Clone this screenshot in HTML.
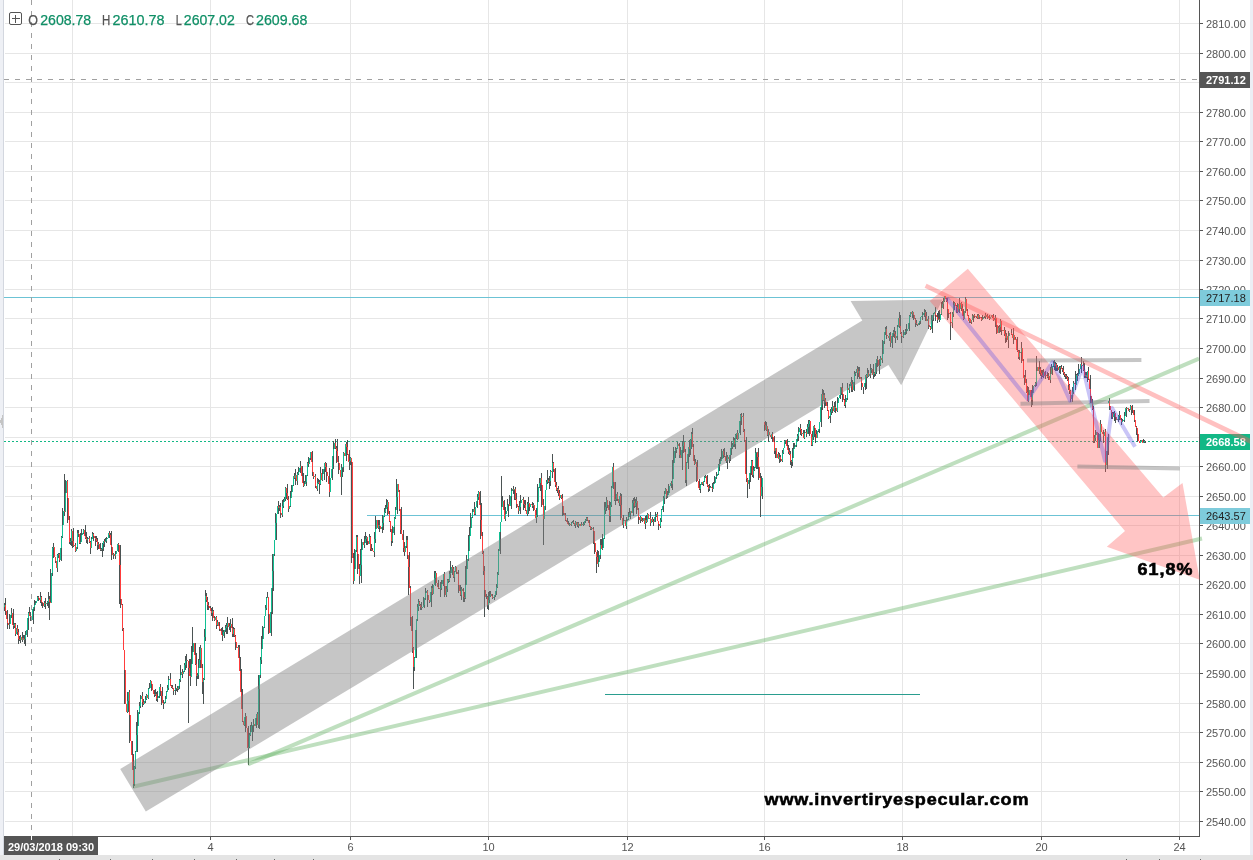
<!DOCTYPE html>
<html><head><meta charset="utf-8"><title>chart</title>
<style>
html,body{margin:0;padding:0;background:#fff;}
body{width:1253px;height:860px;overflow:hidden;position:relative;font-family:"Liberation Sans",sans-serif;}
svg{position:absolute;left:0;top:0;display:block}
svg text{font-family:"Liberation Sans",sans-serif;}
</style></head><body>
<svg width="1253" height="860" viewBox="0 0 1253 860">
<rect width="1253" height="860" fill="#fff"/>
<g stroke="#e6e6e6" stroke-width="1" shape-rendering="crispEdges">
<path d="M5 821.5H1199"/><path d="M5 791.5H1199"/><path d="M5 762.5H1199"/><path d="M5 732.5H1199"/><path d="M5 703.5H1199"/><path d="M5 673.5H1199"/><path d="M5 643.5H1199"/><path d="M5 614.5H1199"/><path d="M5 584.5H1199"/><path d="M5 555.5H1199"/><path d="M5 525.5H1199"/><path d="M5 496.5H1199"/><path d="M5 466.5H1199"/><path d="M5 437.5H1199"/><path d="M5 407.5H1199"/><path d="M5 378.5H1199"/><path d="M5 348.5H1199"/><path d="M5 318.5H1199"/><path d="M5 289.5H1199"/><path d="M5 260.5H1199"/><path d="M5 230.5H1199"/><path d="M5 200.5H1199"/><path d="M5 171.5H1199"/><path d="M5 141.5H1199"/><path d="M5 112.5H1199"/><path d="M5 82.5H1199"/><path d="M5 53.5H1199"/><path d="M5 23.5H1199"/><path d="M72.5 0V836"/><path d="M210.5 0V836"/><path d="M350.5 0V836"/><path d="M488.5 0V836"/><path d="M627.5 0V836"/><path d="M764.5 0V836"/><path d="M902.5 0V836"/><path d="M1041.5 0V836"/><path d="M1179.5 0V836"/>
</g>
<g shape-rendering="crispEdges">
<path d="M4 297.5H1199" stroke="#6cc3d5" stroke-width="1"/>
<path d="M367 515.5H1199" stroke="#6cc3d5" stroke-width="1"/>
<path d="M4 441.5H1199" stroke="#12b886" stroke-width="1" stroke-dasharray="2 2"/>
<path d="M605 694.5H920" stroke="#2a9d8f" stroke-width="1"/>
</g>
<g shape-rendering="crispEdges" fill="none" stroke-width="1">
<path stroke="#4b5353" d="M4.5 603.2V610.7M5.5 598.1V614.5M7.5 609.6V620.5M7.5 614.7V624.8M7.5 619.5V629.1M9.5 622.0V627.0M9.5 614.1V629.0M11.5 608.0V617.8M13.5 609.3V629.2M13.5 622.9V629.4M14.5 622.5V627.7M15.5 623.4V636.0M15.5 627.0V633.8M17.5 625.4V634.8M18.5 628.8V643.9M20.5 634.7V642.6M19.5 636.1V640.7M22.5 631.5V641.6M23.5 634.5V639.9M24.5 634.9V643.8M25.5 636.3V646.4M25.5 631.3V640.4M27.5 625.0V636.7M28.5 613.8V629.9M28.5 612.1V619.0M29.5 607.2V616.1M30.5 615.5V618.8M30.5 612.4V620.9M33.5 607.6V623.7M34.5 605.0V610.8M34.5 604.0V609.0M34.5 599.9V607.1M35.5 600.6V605.0M38.5 595.5V601.4M37.5 595.5V599.6M40.5 595.7V602.1M40.5 596.3V602.9M40.5 592.3V602.9M41.5 595.7V605.9M42.5 603.0V607.8M44.5 600.8V606.6M45.5 599.1V607.3M45.5 598.4V608.6M47.5 601.3V606.3M48.5 591.9V608.3M49.5 595.9V602.5M49.5 599.9V620.0M50.5 568.9V603.2M52.5 546.7V576.3M53.5 545.1V548.1M53.5 543.3V557.7M55.5 556.9V563.1M57.5 560.8V571.8M57.5 553.9V570.0M58.5 553.4V558.0M59.5 553.2V562.1M61.5 544.8V560.6M61.5 536.4V548.9M62.5 522.1V538.2M62.5 508.1V525.2M64.5 508.0V515.9M64.5 474.0V515.0M65.5 479.8V496.4M67.5 480.0V499.1M67.5 493.7V523.4M69.5 516.2V543.5M70.5 538.1V545.3M71.5 528.7V546.4M73.5 527.7V541.4M72.5 538.4V548.1M73.5 542.4V546.5M75.5 543.7V551.5M75.5 542.5V552.4M77.5 530.1V549.0M78.5 530.2V536.8M79.5 533.5V544.2M80.5 541.5V543.8M80.5 532.5V542.2M81.5 529.2V536.6M83.5 528.8V534.3M85.5 525.3V538.5M86.5 531.8V543.3M87.5 537.1V544.3M87.5 538.1V540.4M89.5 535.6V539.6M89.5 536.4V543.2M90.5 541.1V554.3M91.5 536.7V548.1M92.5 531.5V539.4M93.5 533.3V541.0M95.5 535.9V545.5M96.5 537.7V542.2M96.5 536.2V541.4M97.5 537.8V549.6M98.5 542.3V549.1M100.5 542.9V549.1M100.5 545.7V550.8M101.5 547.5V550.9M102.5 542.9V556.5M103.5 540.8V550.9M104.5 539.3V545.3M104.5 540.7V546.9M105.5 537.7V541.4M106.5 536.7V542.7M109.5 531.4V538.0M110.5 532.7V539.0M111.5 530.9V545.0M111.5 544.0V552.1M111.5 544.5V559.8M113.5 552.5V558.5M113.5 553.8V557.9M115.5 551.4V558.6M115.5 550.7V555.5M118.5 543.5V551.6M118.5 543.0V545.7M120.5 544.8V569.1M119.5 565.0V603.6M120.5 596.4V607.7M122.5 603.5V631.1M123.5 627.6V650.1M124.5 649.8V671.1M124.5 667.4V704.3M127.5 703.5V712.5M128.5 698.3V712.4M127.5 691.5V706.9M129.5 690.3V715.6M129.5 714.4V742.7M132.5 740.7V756.6M133.5 753.7V773.5M133.5 769.0V788.0M134.5 766.3V785.5M135.5 750.7V768.5M137.5 729.4V752.2M136.5 721.6V738.9M137.5 710.0V726.1M139.5 702.4V713.6M140.5 696.9V708.1M140.5 694.8V701.9M142.5 691.8V707.2M144.5 701.3V704.4M143.5 699.3V704.9M145.5 695.5V702.6M146.5 694.0V699.9M148.5 692.7V698.9M148.5 688.1V698.5M149.5 682.7V689.1M150.5 680.1V687.9M150.5 680.8V685.6M151.5 681.4V690.5M154.5 689.8V697.2M154.5 692.4V697.4M155.5 689.1V696.2M157.5 690.7V702.4M156.5 692.4V700.9M159.5 693.6V698.1M160.5 684.3V695.8M159.5 686.7V692.0M162.5 686.6V697.1M161.5 693.0V704.6M163.5 701.7V706.1M163.5 699.5V708.6M165.5 695.8V703.4M166.5 691.0V699.2M167.5 685.3V692.3M168.5 675.9V689.6M168.5 678.2V682.8M170.5 673.4V686.2M171.5 685.4V687.8M172.5 684.5V688.5M173.5 688.0V694.5M175.5 690.0V691.3M176.5 688.1V690.9M175.5 684.2V695.2M178.5 686.5V689.9M177.5 685.6V691.8M179.5 678.6V688.6M180.5 665.3V682.1M182.5 669.8V677.7M182.5 671.0V676.0M182.5 669.4V674.5M184.5 662.5V672.0M185.5 655.8V669.9M186.5 656.3V665.5M186.5 654.4V667.9M189.5 658.8V670.6M188.5 666.1V723.0M190.5 669.4V680.4M190.5 658.6V686.3M191.5 645.7V665.3M192.5 627.0V657.9M195.5 642.5V665.2M196.5 652.5V673.3M196.5 660.7V685.6M197.5 672.9V679.2M198.5 662.5V678.8M198.5 659.4V669.6M199.5 647.4V661.8M200.5 644.8V668.2M202.5 663.7V693.5M203.5 678.0V704.0M204.5 629.0V679.6M205.5 590.0V640.7M206.5 593.3V601.5M207.5 596.5V609.5M208.5 602.3V609.6M210.5 605.5V609.2M211.5 608.0V616.2M211.5 610.4V612.9M213.5 610.1V616.4M212.5 607.1V621.1M214.5 615.9V621.1M215.5 616.7V620.4M216.5 616.0V629.0M217.5 619.6V626.0M219.5 621.5V629.4M219.5 624.0V630.8M221.5 628.2V633.5M222.5 627.1V635.3M222.5 634.3V640.8M224.5 630.4V638.3M223.5 630.2V634.5M226.5 622.8V633.7M225.5 625.0V631.5M227.5 617.2V629.3M227.5 621.2V633.5M229.5 622.5V630.3M230.5 619.3V631.9M232.5 618.3V629.8M232.5 625.4V636.6M233.5 626.6V637.1M234.5 627.8V637.0M235.5 635.4V643.0M235.5 641.1V649.9M238.5 645.4V650.0M239.5 644.6V659.6M240.5 657.1V673.3M241.5 668.8V692.4M242.5 688.8V709.5M242.5 704.4V721.6M244.5 719.6V725.5M244.5 716.6V726.4M245.5 713.2V716.8M245.5 715.8V731.5M248.5 725.6V765.0M248.5 742.1V749.0M249.5 732.9V748.1M250.5 725.0V736.3M252.5 725.9V740.9M251.5 721.7V729.3M253.5 719.1V731.7M253.5 722.3V726.2M256.5 715.8V728.4M257.5 712.3V719.4M258.5 713.7V728.0M259.5 688.5V728.5M258.5 674.5V692.7M260.5 656.6V677.7M261.5 648.9V664.4M261.5 635.5V652.5M262.5 626.0V640.2M264.5 615.7V628.2M265.5 605.0V616.4M266.5 597.0V610.1M267.5 592.0V598.4M268.5 596.7V616.9M268.5 612.5V634.2M271.5 610.3V635.9M272.5 585.2V614.1M273.5 564.9V591.2M272.5 553.7V572.5M274.5 539.6V555.8M276.5 519.3V540.4M275.5 512.5V524.1M278.5 501.2V514.2M279.5 505.4V510.8M278.5 504.9V508.8M280.5 502.8V517.6M282.5 512.8V516.8M282.5 500.0V517.0M283.5 499.3V507.5M284.5 496.5V502.4M285.5 486.9V501.2M287.5 484.1V500.2M286.5 489.9V499.1M288.5 496.2V509.9M288.5 504.8V512.1M290.5 497.4V506.8M290.5 490.6V499.3M291.5 484.5V492.0M293.5 475.8V485.9M295.5 469.2V481.7M294.5 473.2V478.8M295.5 473.3V485.1M297.5 471.8V484.7M298.5 471.3V474.6M298.5 466.7V474.2M300.5 461.2V472.5M302.5 466.0V479.5M303.5 472.6V485.4M304.5 481.3V486.0M303.5 481.1V487.0M306.5 480.3V485.5M305.5 475.3V482.9M307.5 461.8V476.3M308.5 461.8V466.6M308.5 456.9V463.8M310.5 451.8V459.5M312.5 450.6V463.8M312.5 458.6V475.7M313.5 471.6V479.4M313.5 471.9V477.6M315.5 474.4V488.1M317.5 483.9V491.0M317.5 478.3V490.4M318.5 478.8V483.5M319.5 480.0V493.5M320.5 471.2V484.6M320.5 467.4V480.8M322.5 469.2V480.6M324.5 467.4V479.5M325.5 461.5V471.5M326.5 462.6V466.9M326.5 462.7V474.6M326.5 471.6V481.9M329.5 468.1V487.9M329.5 480.5V496.8M329.5 473.4V495.3M332.5 466.6V479.8M333.5 451.2V468.7M333.5 442.0V457.1M333.5 441.4V456.0M335.5 439.0V449.0M337.5 439.2V452.5M336.5 445.8V463.0M338.5 456.3V465.0M338.5 457.8V473.6M341.5 464.8V495.0M342.5 467.7V477.1M341.5 463.9V470.4M343.5 452.0V472.4M343.5 452.6V458.2M346.5 442.3V460.8M347.5 439.6V447.3M347.5 443.5V454.6M349.5 450.0V462.6M349.5 458.0V469.5M350.5 457.6V461.9M350.5 456.8V465.3M351.5 460.1V562.5M353.5 552.9V583.5M353.5 566.3V583.6M354.5 548.8V571.0M356.5 534.5V552.2M357.5 535.3V558.2M357.5 549.9V574.4M359.5 564.4V583.5M361.5 558.9V582.6M360.5 549.2V566.8M361.5 539.3V553.3M364.5 536.3V545.3M364.5 540.9V548.4M366.5 537.0V545.2M365.5 532.3V540.7M366.5 535.8V543.2M367.5 540.7V544.5M369.5 534.1V543.8M370.5 536.3V550.9M371.5 544.4V551.0M372.5 547.7V551.1M374.5 549.7V557.2M374.5 531.6V553.9M375.5 525.7V542.7M375.5 516.2V533.7M378.5 520.1V528.3M378.5 524.5V527.6M378.5 523.3V529.0M379.5 520.1V531.9M382.5 526.1V533.0M383.5 522.2V529.9M382.5 515.0V529.5M384.5 508.5V516.8M384.5 507.6V513.7M385.5 504.7V512.8M386.5 499.0V507.5M387.5 499.6V514.9M389.5 511.2V521.5M390.5 520.8V532.3M392.5 525.9V543.1M391.5 532.6V545.9M394.5 526.1V534.5M394.5 517.0V526.7M395.5 507.4V519.2M397.5 495.8V514.4M396.5 479.0V504.0M397.5 483.6V497.6M399.5 489.9V511.2M401.5 507.4V532.6M400.5 528.0V534.2M403.5 529.8V542.1M403.5 538.8V551.8M404.5 543.3V552.4M404.5 542.2V556.3M406.5 535.9V547.6M407.5 536.3V558.8M409.5 552.1V569.6M408.5 562.2V595.2M410.5 586.4V625.7M412.5 616.1V636.4M412.5 630.1V652.9M413.5 647.2V689.0M414.5 657.0V670.5M416.5 629.5V658.1M416.5 618.9V631.5M417.5 604.4V621.2M418.5 599.3V610.8M419.5 601.3V606.3M421.5 602.4V607.8M420.5 604.3V610.2M421.5 603.5V609.9M424.5 603.6V607.7M423.5 596.7V607.2M425.5 587.8V599.6M425.5 589.6V593.8M427.5 589.7V594.9M427.5 592.1V607.2M429.5 599.8V603.2M431.5 589.6V606.6M431.5 585.5V597.5M432.5 585.9V594.3M432.5 583.6V594.6M435.5 576.9V585.9M434.5 571.4V578.5M435.5 571.3V584.2M438.5 579.7V587.7M438.5 584.4V589.3M440.5 582.0V592.7M440.5 585.7V596.6M441.5 580.3V590.1M443.5 578.7V585.9M444.5 571.6V583.8M444.5 573.7V585.8M444.5 584.2V596.5M446.5 585.5V597.4M447.5 579.3V592.3M448.5 579.0V582.6M449.5 570.7V581.7M450.5 572.4V578.4M450.5 561.4V574.9M452.5 565.1V575.2M453.5 567.1V577.6M454.5 570.6V581.5M455.5 566.2V571.7M456.5 566.5V574.4M458.5 571.0V577.4M458.5 569.8V586.4M458.5 584.5V593.0M460.5 584.6V596.0M461.5 587.4V599.8M463.5 587.5V596.2M463.5 587.8V602.3M464.5 592.4V601.8M465.5 583.8V599.4M465.5 565.7V589.6M466.5 554.5V573.9M468.5 547.9V560.8M468.5 535.2V556.5M469.5 526.5V536.6M470.5 513.1V528.5M472.5 510.8V517.8M472.5 509.1V517.2M475.5 508.3V514.5M474.5 502.3V515.0M477.5 499.7V507.6M477.5 494.0V500.9M478.5 490.9V499.9M480.5 490.8V506.2M481.5 503.3V522.8M480.5 518.5V539.3M482.5 531.7V553.8M483.5 551.0V574.9M484.5 566.1V617.0M484.5 590.0V600.4M486.5 593.9V598.7M488.5 591.7V610.4M487.5 596.4V609.1M489.5 593.6V603.1M489.5 590.5V597.5M490.5 591.2V596.8M492.5 594.1V598.8M492.5 595.3V598.3M494.5 594.9V600.0M495.5 590.9V596.5M496.5 584.2V594.6M497.5 571.6V588.2M498.5 549.0V575.0M500.5 530.6V554.3M500.5 521.7V533.5M501.5 476.0V522.1M502.5 495.6V507.4M504.5 500.0V510.8M504.5 507.7V519.1M505.5 510.0V521.2M505.5 507.1V518.0M508.5 504.5V516.7M507.5 499.1V507.7M509.5 495.2V506.0M511.5 492.9V509.0M511.5 487.9V499.9M513.5 486.4V494.3M514.5 488.9V500.1M515.5 487.9V490.5M515.5 487.4V499.8M516.5 493.3V508.1M516.5 496.7V507.7M518.5 506.1V513.5M520.5 495.1V514.1M519.5 500.6V509.3M520.5 498.9V505.7M523.5 497.1V503.5M523.5 498.2V510.1M524.5 499.8V507.5M525.5 500.1V510.7M527.5 506.2V515.8M527.5 501.7V516.4M527.5 502.5V505.6M528.5 497.2V513.6M529.5 503.8V510.9M530.5 503.7V505.5M532.5 502.1V508.1M532.5 502.6V507.3M533.5 502.5V510.7M536.5 507.5V522.6M536.5 509.8V518.7M537.5 499.6V517.2M537.5 484.4V508.9M540.5 480.1V491.0M539.5 477.7V488.4M541.5 472.6V487.2M541.5 482.6V507.1M543.5 498.7V545.0M543.5 504.3V527.5M545.5 490.1V510.1M546.5 479.6V490.4M548.5 478.1V483.1M547.5 469.9V483.5M549.5 476.3V489.4M550.5 469.9V486.2M552.5 466.8V472.9M552.5 454.0V477.6M553.5 461.7V472.3M555.5 467.6V482.8M555.5 474.4V486.8M556.5 482.0V491.0M557.5 487.6V493.3M558.5 485.5V495.7M559.5 490.2V499.9M559.5 494.6V499.7M561.5 494.7V499.4M562.5 493.6V509.9M562.5 504.4V515.9M563.5 511.3V515.4M565.5 512.8V520.7M567.5 517.7V523.2M568.5 522.0V524.7M568.5 520.9V525.0M569.5 523.0V526.2M571.5 523.6V525.2M571.5 521.9V526.2M572.5 520.6V523.3M573.5 519.7V524.3M574.5 523.2V526.2M575.5 520.6V525.6M575.5 521.5V527.6M577.5 521.9V526.9M578.5 521.5V527.8M579.5 524.1V526.4M581.5 521.5V525.6M581.5 522.2V525.6M583.5 523.4V525.9M583.5 522.3V525.2M584.5 520.6V524.7M585.5 519.0V522.7M586.5 516.9V520.7M587.5 517.1V520.5M589.5 519.8V522.8M589.5 522.1V526.5M590.5 525.6V530.2M591.5 526.5V530.3M593.5 527.1V529.8M593.5 528.2V531.6M593.5 529.0V543.7M594.5 540.6V553.8M597.5 549.5V558.7M596.5 554.7V573.0M598.5 560.9V567.3M598.5 550.9V562.3M600.5 539.3V559.4M601.5 538.6V549.4M602.5 543.2V550.3M602.5 534.1V550.1M604.5 502.4V538.9M605.5 502.0V514.3M606.5 496.6V510.5M607.5 500.1V507.6M609.5 502.6V512.1M610.5 501.8V521.8M609.5 501.3V521.8M611.5 485.9V506.8M613.5 463.4V488.8M613.5 464.3V482.5M615.5 482.0V504.5M614.5 497.9V501.2M616.5 493.6V501.3M617.5 491.9V500.6M619.5 498.9V505.7M620.5 492.7V505.1M621.5 493.6V506.6M620.5 499.2V519.6M623.5 514.5V527.7M623.5 518.3V525.7M623.5 517.4V522.1M626.5 517.6V529.2M626.5 519.4V528.3M626.5 516.9V526.3M628.5 512.1V520.4M630.5 512.1V519.3M629.5 507.8V515.2M630.5 510.9V514.1M633.5 497.6V515.8M632.5 499.9V505.6M634.5 497.4V507.6M635.5 498.5V506.8M635.5 500.8V506.7M636.5 497.0V514.3M638.5 507.6V518.8M638.5 515.0V524.1M640.5 516.1V522.9M641.5 517.2V520.9M642.5 518.0V521.8M644.5 518.2V523.2M645.5 517.1V528.9M645.5 516.2V527.5M646.5 514.8V523.3M647.5 513.3V521.6M647.5 513.7V519.2M650.5 515.9V522.4M650.5 511.5V524.4M650.5 516.6V526.1M652.5 516.6V521.5M653.5 518.9V526.0M655.5 515.5V522.1M656.5 515.3V517.3M655.5 511.6V517.3M657.5 512.1V520.8M658.5 520.8V528.7M658.5 523.6V530.4M660.5 517.8V528.0M661.5 509.3V521.7M663.5 502.7V512.0M663.5 495.7V509.8M664.5 490.5V503.9M665.5 487.6V493.8M666.5 488.9V499.1M667.5 491.2V497.8M668.5 491.0V495.1M668.5 484.3V494.1M671.5 481.4V487.9M672.5 481.5V490.1M672.5 476.3V488.1M672.5 460.4V480.8M673.5 446.9V464.3M675.5 447.3V457.5M676.5 447.7V452.6M677.5 443.9V449.1M677.5 442.0V446.4M679.5 443.0V458.0M680.5 447.1V458.0M682.5 448.2V469.8M682.5 441.0V459.8M683.5 435.0V447.6M683.5 441.3V453.2M685.5 449.4V483.2M686.5 461.7V485.9M688.5 453.4V468.8M689.5 440.2V456.7M689.5 443.7V450.2M690.5 439.4V454.8M692.5 428.0V444.6M691.5 431.8V448.8M693.5 443.9V461.3M694.5 454.8V464.5M695.5 459.1V464.3M697.5 459.7V468.5M696.5 464.7V481.6M699.5 479.3V489.8M699.5 486.9V490.4M700.5 484.4V492.6M702.5 482.1V485.1M703.5 480.9V484.7M703.5 480.5V486.0M704.5 476.1V481.5M705.5 474.9V477.9M707.5 475.4V484.0M707.5 483.9V486.9M709.5 484.1V491.4M708.5 485.0V491.7M710.5 485.8V488.2M712.5 485.9V488.4M712.5 487.0V489.8M712.5 483.0V491.6M713.5 482.0V484.6M714.5 475.7V482.6M716.5 474.6V478.3M716.5 472.0V478.6M718.5 463.7V475.4M719.5 459.3V470.6M719.5 458.7V464.8M720.5 457.4V461.4M721.5 448.5V459.4M723.5 448.5V458.0M724.5 447.7V457.4M726.5 454.1V462.8M727.5 454.5V469.4M726.5 452.1V460.4M729.5 455.3V463.1M730.5 453.9V461.1M731.5 447.7V454.9M732.5 443.2V448.6M731.5 441.3V447.0M733.5 437.3V447.4M734.5 437.8V447.4M735.5 434.2V449.4M736.5 432.6V439.0M737.5 429.7V439.1M737.5 431.2V440.0M740.5 419.9V435.3M740.5 414.1V421.1M741.5 413.4V419.8M741.5 415.4V424.5M743.5 412.7V432.3M744.5 429.1V442.0M746.5 437.0V477.2M746.5 468.9V482.4M747.5 477.6V498.0M749.5 477.2V488.5M750.5 471.2V482.3M751.5 464.7V474.6M751.5 459.9V466.3M752.5 460.0V477.0M753.5 465.9V478.0M754.5 466.6V471.0M756.5 452.0V468.9M755.5 448.2V461.1M758.5 447.6V460.3M757.5 453.1V469.4M758.5 462.8V480.1M760.5 472.8V517.0M762.5 480.9V498.6M761.5 475.9V493.6M765.5 421.2V426.4M764.5 423.4V430.8M766.5 421.8V431.4M767.5 426.1V435.6M768.5 428.7V441.9M769.5 431.5V435.3M771.5 433.9V439.4M772.5 433.5V439.6M772.5 431.9V442.1M774.5 435.5V443.2M774.5 439.7V454.2M774.5 444.0V452.4M775.5 447.7V458.3M778.5 451.7V459.0M779.5 452.6V463.4M779.5 454.2V459.7M779.5 453.0V460.5M780.5 454.5V461.7M782.5 449.6V462.1M783.5 448.0V453.9M784.5 439.8V448.4M785.5 439.7V444.2M787.5 439.2V448.7M788.5 445.0V450.2M788.5 449.4V453.9M789.5 447.6V455.1M790.5 451.4V464.6M791.5 460.0V468.0M792.5 456.0V465.7M792.5 447.7V462.2M793.5 442.7V453.1M794.5 442.8V447.3M796.5 438.7V447.4M797.5 433.9V440.7M798.5 431.5V440.6M798.5 426.9V433.2M800.5 424.3V435.2M801.5 428.8V435.7M803.5 430.4V438.1M804.5 430.9V438.6M803.5 432.3V437.9M804.5 430.0V437.6M806.5 429.4V437.1M808.5 423.5V434.4M807.5 423.6V428.7M808.5 420.2V427.8M809.5 420.2V435.5M811.5 433.5V446.0M812.5 430.9V445.5M813.5 425.5V440.0M814.5 425.0V430.0M814.5 426.3V436.7M815.5 432.4V443.4M816.5 429.6V437.9M818.5 429.0V432.2M819.5 422.3V432.6M821.5 404.6V426.7M822.5 393.3V410.1M822.5 389.4V400.9M823.5 390.4V401.4M824.5 392.8V406.2M824.5 399.1V408.1M825.5 397.5V406.4M827.5 402.4V411.4M828.5 409.9V419.1M830.5 413.9V422.7M830.5 408.6V420.4M831.5 406.8V414.6M832.5 401.0V411.5M832.5 402.1V412.9M834.5 401.7V411.6M835.5 401.1V407.7M835.5 404.9V413.2M837.5 399.8V411.8M837.5 396.5V405.4M840.5 390.6V398.9M841.5 387.2V395.0M842.5 383.1V390.4M842.5 385.6V396.0M842.5 393.8V402.1M844.5 399.3V405.9M845.5 396.7V407.6M845.5 395.1V405.1M847.5 383.4V400.1M849.5 386.3V391.0M849.5 384.0V393.0M851.5 377.3V392.0M852.5 381.8V386.8M852.5 380.0V391.9M854.5 375.0V390.8M854.5 371.0V385.8M855.5 371.6V376.2M857.5 366.3V375.7M858.5 367.0V376.7M857.5 366.0V378.7M859.5 366.8V379.0M861.5 377.0V385.0M861.5 378.6V387.3M861.5 380.5V390.4M863.5 386.5V394.2M865.5 381.7V389.9M866.5 374.1V388.5M866.5 373.9V380.7M867.5 367.9V377.5M867.5 371.2V376.7M868.5 370.0V376.7M870.5 363.8V377.8M871.5 368.2V372.7M873.5 363.9V379.0M874.5 371.6V376.8M875.5 369.4V375.5M876.5 359.1V374.4M877.5 355.7V367.4M877.5 356.3V364.0M879.5 359.1V367.5M879.5 364.1V374.0M880.5 355.5V366.4M882.5 353.9V362.7M882.5 351.3V363.4M882.5 339.8V354.4M884.5 331.9V344.1M885.5 326.9V335.2M886.5 325.5V335.9M886.5 333.3V339.1M889.5 334.0V340.8M889.5 332.6V338.3M890.5 332.2V346.6M892.5 335.4V348.0M893.5 331.9V336.5M893.5 330.0V336.4M894.5 326.8V337.5M895.5 331.4V342.9M895.5 332.4V338.4M897.5 325.1V339.7M899.5 312.0V328.2M900.5 315.4V329.1M900.5 324.6V333.7M901.5 332.3V336.2M901.5 334.9V342.6M903.5 333.8V338.0M903.5 329.6V336.0M905.5 329.5V334.7M905.5 328.5V334.8M906.5 324.1V334.0M909.5 321.8V330.8M909.5 315.0V324.0M910.5 311.7V316.5M912.5 311.2V314.0M912.5 312.2V317.1M912.5 311.2V318.3M913.5 312.3V320.2M915.5 318.2V326.5M916.5 320.0V324.8M917.5 323.8V326.3M919.5 322.2V325.3M920.5 318.8V323.8M920.5 316.5V320.7M922.5 313.7V318.8M922.5 312.3V319.7M924.5 308.5V316.9M925.5 310.1V316.7M926.5 312.1V316.1M925.5 311.9V321.2M928.5 319.0V321.9M928.5 316.4V324.8M928.5 324.5V329.0M930.5 325.6V329.9M932.5 318.2V333.1M931.5 314.9V323.2M933.5 312.5V320.8M934.5 311.5V314.4M935.5 306.7V318.9M935.5 312.2V320.7M938.5 311.1V320.3M937.5 312.6V322.8M939.5 317.5V322.1M939.5 310.4V320.8M941.5 301.9V314.8M943.5 302.4V309.4M942.5 300.6V306.4M943.5 297.6V300.7M944.5 297.6V301.6M946.5 297.6V302.0M947.5 297.6V310.2M947.5 305.1V319.6M948.5 311.8V317.5M950.5 311.8V323.1M950.5 320.4V340.0M952.5 312.2V327.7M953.5 304.5V317.4M953.5 301.1V308.7M954.5 302.1V310.4M957.5 303.2V312.9M956.5 305.3V313.2M959.5 303.6V313.1M959.5 298.4V310.4M961.5 302.5V310.7M961.5 302.2V310.8M962.5 303.5V315.6M963.5 312.4V320.2M963.5 308.7V320.1M965.5 297.8V312.8M965.5 296.8V311.8M967.5 309.1V316.2M968.5 315.4V321.1M969.5 318.0V322.5M970.5 319.2V323.3M971.5 319.8V323.6M973.5 314.9V321.5M972.5 314.3V316.4M974.5 314.4V318.4M976.5 315.7V318.3M977.5 313.7V318.6M977.5 315.3V319.2M978.5 314.6V318.5M978.5 314.2V317.5M979.5 316.4V318.8M981.5 316.6V321.4M981.5 316.9V320.1M982.5 315.1V319.4M984.5 316.1V317.8M985.5 313.2V318.8M985.5 314.3V317.9M987.5 314.2V319.1M989.5 314.6V320.2M990.5 317.0V319.4M989.5 316.0V319.6M992.5 314.6V317.9M993.5 314.3V317.7M993.5 315.9V320.5M994.5 318.1V320.4M996.5 317.8V319.5M995.5 315.4V326.8M996.5 323.0V333.8M999.5 325.2V333.0M998.5 325.8V329.7M1000.5 320.0V331.2M1000.5 319.3V332.3M1001.5 326.6V334.9M1004.5 326.7V335.1M1004.5 329.2V335.6M1005.5 330.3V342.8M1006.5 333.4V341.8M1006.5 335.4V340.6M1008.5 334.3V347.5M1008.5 331.1V336.3M1011.5 332.3V333.8M1011.5 329.3V335.2M1013.5 332.8V339.2M1013.5 327.6V337.6M1013.5 332.8V343.5M1015.5 336.7V340.4M1017.5 337.0V351.7M1018.5 349.8V351.2M1018.5 350.0V358.8M1019.5 349.5V359.7M1021.5 346.4V356.5M1021.5 342.0V352.7M1021.5 341.9V362.6M1023.5 358.8V378.2M1025.5 369.5V379.2M1024.5 375.1V384.7M1026.5 379.0V393.1M1027.5 386.1V401.3M1028.5 392.7V401.8M1028.5 387.0V397.5M1031.5 389.6V407.0M1031.5 394.1V403.2M1032.5 390.0V404.9M1032.5 385.1V402.4M1035.5 382.2V386.5M1035.5 382.3V384.7M1036.5 367.5V386.3M1036.5 356.0V371.1M1039.5 361.1V371.5M1039.5 366.9V373.5M1040.5 366.8V376.4M1041.5 369.6V378.9M1042.5 370.1V376.9M1043.5 369.1V377.6M1043.5 371.4V377.3M1045.5 371.4V378.6M1047.5 371.6V378.2M1047.5 373.7V377.3M1048.5 373.7V377.1M1048.5 372.8V380.0M1050.5 367.2V382.9M1052.5 367.4V375.4M1051.5 364.0V369.4M1053.5 361.2V366.7M1054.5 359.6V369.7M1055.5 361.5V370.6M1056.5 362.7V370.6M1057.5 364.7V371.2M1059.5 365.8V373.0M1060.5 366.1V373.5M1061.5 365.6V368.9M1061.5 365.2V369.0M1062.5 368.2V372.1M1063.5 365.8V374.7M1064.5 372.3V377.4M1065.5 374.3V378.7M1066.5 373.5V379.4M1067.5 376.0V381.1M1068.5 376.5V389.8M1069.5 384.1V393.7M1070.5 390.0V402.4M1072.5 393.4V402.0M1072.5 386.8V396.8M1073.5 381.3V394.2M1073.5 382.7V386.8M1075.5 382.5V389.5M1075.5 371.3V386.9M1076.5 374.3V378.8M1077.5 372.7V380.8M1078.5 363.9V374.6M1081.5 357.0V373.2M1081.5 362.0V366.7M1083.5 361.3V370.9M1084.5 364.9V370.6M1084.5 363.4V377.5M1085.5 372.1V377.8M1086.5 372.1V378.2M1087.5 370.5V381.7M1088.5 367.3V380.0M1090.5 375.4V389.8M1090.5 388.7V395.7M1090.5 395.5V402.9M1092.5 399.2V410.0M1093.5 406.2V443.1M1094.5 435.0V442.6M1095.5 434.9V437.8M1095.5 429.7V440.5M1097.5 431.6V447.8M1099.5 436.4V447.6M1098.5 432.5V443.3M1100.5 419.7V440.5M1100.5 422.5V437.6M1103.5 429.5V441.4M1103.5 432.6V442.5M1103.5 431.0V439.8M1105.5 429.4V472.0M1107.5 447.2V469.0M1108.5 434.0V454.8M1109.5 398.0V405.6M1109.5 399.6V407.9M1109.5 405.2V410.3M1111.5 409.7V415.3M1111.5 412.3V419.3M1112.5 411.5V419.4M1113.5 412.3V416.0M1114.5 411.1V420.6M1115.5 416.5V423.3M1118.5 414.6V422.1M1119.5 415.6V419.5M1119.5 412.9V417.8M1119.5 411.1V420.2M1121.5 419.0V425.1M1121.5 417.7V421.9M1122.5 418.5V422.0M1124.5 412.3V422.3M1126.5 407.5V416.7M1126.5 407.1V411.5M1126.5 407.4V410.0M1128.5 408.1V411.4M1129.5 408.8V411.8M1130.5 404.7V409.7M1132.5 405.2V413.3M1131.5 406.9V414.5M1134.5 409.5V417.8M1134.5 413.5V421.5M1135.5 419.7V426.8M1136.5 425.9V433.6M1136.5 427.4V434.6M1137.5 433.2V442.3M1140.5 441.1V442.8M1140.5 440.0V443.0M1140.5 440.1V441.9M1143.5 439.4V443.0M1144.5 440.2V443.3M1145.5 440.7V443.0"/>
<path stroke="#10bf92" d="M4.5 605.0V606.6M9.5 623.9V624.7M10.5 615.3V623.9M11.5 612.6V615.3M14.5 624.2V625.9M16.5 628.2V633.5M20.5 636.8V640.0M22.5 638.0V639.5M24.5 638.5V639.9M25.5 634.8V638.5M26.5 629.5V634.8M27.5 618.1V629.5M28.5 612.5V618.1M32.5 609.1V619.6M33.5 607.3V609.1M34.5 604.7V607.3M35.5 602.9V604.7M36.5 600.6V602.9M37.5 597.2V600.6M40.5 596.6V600.0M44.5 602.8V605.5M46.5 603.2V604.1M47.5 602.1V603.2M48.5 598.5V602.1M51.5 573.0V602.7M52.5 547.9V573.0M53.5 546.8V547.9M57.5 555.3V567.8M58.5 554.1V555.3M60.5 548.0V560.4M61.5 536.9V548.0M62.5 524.6V536.9M63.5 511.4V524.6M65.5 492.9V512.2M66.5 480.7V492.9M70.5 541.0V542.2M71.5 530.5V541.0M74.5 545.0V546.0M76.5 547.0V550.5M77.5 532.7V547.0M80.5 541.9V543.3M81.5 534.9V541.9M82.5 533.3V534.9M83.5 530.2V533.3M87.5 539.3V540.3M88.5 538.4V539.3M91.5 538.5V547.5M92.5 534.0V538.5M98.5 543.7V545.2M101.5 549.2V550.4M102.5 543.6V549.2M103.5 541.0V543.6M105.5 540.7V542.1M106.5 538.9V540.7M107.5 538.0V538.9M108.5 533.1V538.0M113.5 554.2V555.2M115.5 554.1V555.7M116.5 550.7V554.1M117.5 544.1V550.7M127.5 701.3V712.0M128.5 691.6V701.3M134.5 767.3V784.2M135.5 751.5V767.3M136.5 735.3V751.5M137.5 726.0V735.3M138.5 712.3V726.0M139.5 706.3V712.3M140.5 699.1V706.3M141.5 695.5V699.1M144.5 700.8V703.5M145.5 698.5V700.8M146.5 694.5V698.5M148.5 689.1V697.7M149.5 687.8V689.1M150.5 680.8V687.8M155.5 694.0V695.3M157.5 697.6V699.4M158.5 695.8V697.6M159.5 687.1V695.8M164.5 702.0V704.2M165.5 698.9V702.0M166.5 692.3V698.9M167.5 687.6V692.3M168.5 680.4V687.6M169.5 678.9V680.4M174.5 690.1V691.1M175.5 689.1V690.1M176.5 688.0V689.1M178.5 685.8V689.4M179.5 679.8V685.8M180.5 674.9V679.8M181.5 671.8V674.9M183.5 670.6V674.0M184.5 665.0V670.6M185.5 661.0V665.0M186.5 660.3V661.0M191.5 663.9V677.3M192.5 652.4V663.9M193.5 643.0V652.4M197.5 674.7V675.9M198.5 668.1V674.7M199.5 659.5V668.1M200.5 648.1V659.5M203.5 678.5V682.3M204.5 637.2V678.5M205.5 595.5V637.2M212.5 611.0V612.5M215.5 617.1V619.7M217.5 621.8V624.6M223.5 632.1V636.1M224.5 630.4V632.1M225.5 627.6V630.4M226.5 626.4V627.6M227.5 623.0V626.4M229.5 626.0V627.2M230.5 624.3V626.0M233.5 629.4V634.4M237.5 646.6V647.8M244.5 716.7V724.9M245.5 715.9V716.7M248.5 747.0V747.8M249.5 735.3V747.0M250.5 731.5V735.3M251.5 726.1V731.5M252.5 724.5V726.1M253.5 723.6V724.5M255.5 718.1V725.8M256.5 714.0V718.1M258.5 688.8V724.5M259.5 675.0V688.8M260.5 659.8V675.0M261.5 649.4V659.8M262.5 638.7V649.4M263.5 627.4V638.7M264.5 615.8V627.4M265.5 607.8V615.8M266.5 598.0V607.8M267.5 597.0V598.0M270.5 612.1V632.9M271.5 587.9V612.1M272.5 571.0V587.9M273.5 554.3V571.0M274.5 539.9V554.3M275.5 523.3V539.9M276.5 514.1V523.3M277.5 505.7V514.1M279.5 506.8V508.2M282.5 505.8V514.7M283.5 502.1V505.8M284.5 498.6V502.1M285.5 487.9V498.6M289.5 505.5V509.3M290.5 498.1V505.5M291.5 491.5V498.1M292.5 484.8V491.5M293.5 475.9V484.8M295.5 474.7V477.6M297.5 473.5V481.2M298.5 471.6V473.5M299.5 468.0V471.6M300.5 466.4V468.0M304.5 484.4V485.9M305.5 482.3V484.4M306.5 475.3V482.3M307.5 462.5V475.3M309.5 458.3V463.8M310.5 452.3V458.3M314.5 475.9V477.3M317.5 482.8V488.6M318.5 481.7V482.8M320.5 473.2V483.8M322.5 473.8V479.9M323.5 469.0V473.8M324.5 463.2V469.0M330.5 478.1V492.3M331.5 468.7V478.1M332.5 456.2V468.7M333.5 449.1V456.2M334.5 443.4V449.1M341.5 468.2V476.7M342.5 466.5V468.2M343.5 453.0V466.5M345.5 444.2V456.0M349.5 461.1V462.1M350.5 458.1V461.1M354.5 568.6V580.7M355.5 550.4V568.6M356.5 537.1V550.4M360.5 565.0V575.8M361.5 550.2V565.0M362.5 542.3V550.2M364.5 542.6V544.7M365.5 538.7V542.6M366.5 536.9V538.7M369.5 537.3V543.6M374.5 538.6V552.1M375.5 528.5V538.6M376.5 520.3V528.5M378.5 524.7V527.5M381.5 527.0V529.0M382.5 523.4V527.0M383.5 516.0V523.4M384.5 512.3V516.0M385.5 508.7V512.3M386.5 507.4V508.7M387.5 502.4V507.4M392.5 532.7V540.7M393.5 526.5V532.7M394.5 517.6V526.5M395.5 510.4V517.6M396.5 497.3V510.4M397.5 484.1V497.3M405.5 546.2V552.1M406.5 540.2V546.2M414.5 657.9V667.1M415.5 629.8V657.9M416.5 619.2V629.8M417.5 607.1V619.2M418.5 601.6V607.1M422.5 606.7V608.0M423.5 605.1V606.7M424.5 597.7V605.1M425.5 593.2V597.7M426.5 590.5V593.2M430.5 591.5V601.8M431.5 588.2V591.5M433.5 584.7V594.1M434.5 577.8V584.7M435.5 573.1V577.8M440.5 587.9V589.1M441.5 584.4V587.9M442.5 579.9V584.4M443.5 574.2V579.9M446.5 588.9V594.6M447.5 579.7V588.9M449.5 574.4V580.7M450.5 572.5V574.4M451.5 567.4V572.5M454.5 571.6V576.9M455.5 566.8V571.6M461.5 588.7V595.4M465.5 585.3V597.8M466.5 568.8V585.3M467.5 558.5V568.8M468.5 551.0V558.5M469.5 536.2V551.0M470.5 527.8V536.2M471.5 516.5V527.8M472.5 512.0V516.5M473.5 509.1V512.0M475.5 506.7V514.3M476.5 500.7V506.7M477.5 497.3V500.7M478.5 491.8V497.3M486.5 596.5V597.4M488.5 600.2V604.7M489.5 596.2V600.2M490.5 594.2V596.2M493.5 596.8V597.9M494.5 595.3V596.8M495.5 590.9V595.3M496.5 587.4V590.9M497.5 574.2V587.4M498.5 551.1V574.2M499.5 531.9V551.1M500.5 522.0V531.9M501.5 506.7V522.0M502.5 501.1V506.7M505.5 514.4V518.8M506.5 511.2V514.4M507.5 504.9V511.2M508.5 503.8V504.9M510.5 495.8V505.8M511.5 491.0V495.8M512.5 489.2V491.0M514.5 488.7V489.9M519.5 506.7V511.3M520.5 502.6V506.7M521.5 500.4V502.6M522.5 498.9V500.4M527.5 504.0V513.9M528.5 502.5V504.0M530.5 504.1V506.5M533.5 505.2V506.0M536.5 514.8V518.1M537.5 501.5V514.8M538.5 487.3V501.5M539.5 482.8V487.3M540.5 478.0V482.8M544.5 505.9V518.6M545.5 490.2V505.9M546.5 481.8V490.2M547.5 480.3V481.8M549.5 480.6V482.1M550.5 470.8V480.6M552.5 462.8V471.6M557.5 488.6V490.3M560.5 495.2V498.2M569.5 523.8V524.5M571.5 523.0V524.8M572.5 521.6V523.0M575.5 522.4V524.7M577.5 523.0V525.0M579.5 524.2V526.1M581.5 524.0V525.6M583.5 524.2V525.1M584.5 521.3V524.2M585.5 519.7V521.3M586.5 517.9V519.7M591.5 527.5V529.0M598.5 561.8V564.1M599.5 554.5V561.8M600.5 544.8V554.5M602.5 547.9V549.1M603.5 538.2V547.9M604.5 510.3V538.2M605.5 507.3V510.3M606.5 500.3V507.3M610.5 504.5V516.1M611.5 487.8V504.5M612.5 467.3V487.8M615.5 498.9V499.9M616.5 494.0V498.9M619.5 495.9V503.3M623.5 521.3V524.8M624.5 519.9V521.3M626.5 521.0V526.3M627.5 519.4V521.0M628.5 517.4V519.4M629.5 512.6V517.4M630.5 511.4V512.6M632.5 502.7V512.7M633.5 501.1V502.7M635.5 502.7V505.6M636.5 501.1V502.7M640.5 517.4V519.7M643.5 518.2V521.3M645.5 520.0V524.3M647.5 513.8V521.5M649.5 517.7V518.5M651.5 519.3V523.3M654.5 516.8V521.9M655.5 515.6V516.8M656.5 514.3V515.6M660.5 519.5V526.4M661.5 510.3V519.5M662.5 506.1V510.3M663.5 497.9V506.1M664.5 493.7V497.9M665.5 489.2V493.7M667.5 494.6V496.2M668.5 493.3V494.6M669.5 486.0V493.3M670.5 482.6V486.0M672.5 478.6V483.9M673.5 462.6V478.6M674.5 451.1V462.6M675.5 449.5V451.1M676.5 448.7V449.5M677.5 444.0V448.7M681.5 450.2V457.5M682.5 445.6V450.2M683.5 442.0V445.6M686.5 463.0V480.1M687.5 454.1V463.0M688.5 447.4V454.1M690.5 439.8V448.7M691.5 433.6V439.8M695.5 461.7V463.8M700.5 485.0V489.1M701.5 482.4V485.0M703.5 481.0V483.8M704.5 476.7V481.0M705.5 475.5V476.7M709.5 487.5V488.6M710.5 486.7V487.5M713.5 483.7V489.3M714.5 482.5V483.7M715.5 477.1V482.5M716.5 475.9V477.1M717.5 474.3V475.9M718.5 464.7V474.3M719.5 463.8V464.7M720.5 461.0V463.8M721.5 459.2V461.0M722.5 450.5V459.2M726.5 460.1V461.0M727.5 457.3V460.1M729.5 454.8V458.8M730.5 448.4V454.8M731.5 446.9V448.4M732.5 445.3V446.9M733.5 440.0V445.3M735.5 434.6V444.1M736.5 433.0V434.6M738.5 432.9V438.6M739.5 421.1V432.9M740.5 415.2V421.1M742.5 415.7V416.9M748.5 480.3V484.1M749.5 472.9V480.3M750.5 465.5V472.9M751.5 460.8V465.5M753.5 469.7V474.6M754.5 467.6V469.7M755.5 452.7V467.6M756.5 451.5V452.7M761.5 487.2V496.4M762.5 477.8V487.2M766.5 426.2V430.0M768.5 431.7V434.5M771.5 433.7V437.4M775.5 447.7V450.5M777.5 453.7V458.0M779.5 456.7V459.1M782.5 452.8V460.5M783.5 448.1V452.8M784.5 441.4V448.1M785.5 440.0V441.4M792.5 458.4V462.2M793.5 448.7V458.4M794.5 447.3V448.7M795.5 445.3V447.3M796.5 439.4V445.3M797.5 435.9V439.4M798.5 432.0V435.9M799.5 428.1V432.0M802.5 432.9V433.7M804.5 433.0V437.7M805.5 432.3V433.0M807.5 426.7V434.1M808.5 424.3V426.7M809.5 421.1V424.3M812.5 437.0V445.1M813.5 425.8V437.0M817.5 431.2V437.7M818.5 429.4V431.2M819.5 422.4V429.4M820.5 407.4V422.4M821.5 394.3V407.4M823.5 394.6V399.9M829.5 416.4V417.9M830.5 412.1V416.4M831.5 409.4V412.1M832.5 405.8V409.4M834.5 406.5V410.7M837.5 402.9V410.6M838.5 397.8V402.9M839.5 394.7V397.8M840.5 387.3V394.7M845.5 402.2V404.7M846.5 398.2V402.2M847.5 387.6V398.2M849.5 386.3V389.5M850.5 381.9V386.3M853.5 382.3V390.3M854.5 374.1V382.3M855.5 372.5V374.1M856.5 369.0V372.5M858.5 371.0V372.9M863.5 386.5V387.4M864.5 382.6V386.5M865.5 375.0V382.6M867.5 372.7V376.6M869.5 373.9V375.5M870.5 370.2V373.9M871.5 368.6V370.2M873.5 372.9V374.6M875.5 362.8V373.7M876.5 358.6V362.8M879.5 364.9V366.3M880.5 357.6V364.9M882.5 353.6V359.6M883.5 341.3V353.6M884.5 332.3V341.3M885.5 328.8V332.3M889.5 334.7V337.5M891.5 335.5V343.2M892.5 333.0V335.5M893.5 331.5V333.0M896.5 335.8V337.9M897.5 327.2V335.8M898.5 317.5V327.2M903.5 334.9V337.4M904.5 332.1V334.9M905.5 330.5V332.1M907.5 328.8V331.3M908.5 323.4V328.8M909.5 315.9V323.4M910.5 312.4V315.9M912.5 312.3V313.8M918.5 322.6V325.1M919.5 320.6V322.6M920.5 317.3V320.6M921.5 315.9V317.3M922.5 314.8V315.9M923.5 313.1V314.8M924.5 312.3V313.1M927.5 319.1V320.6M931.5 319.6V329.4M932.5 315.2V319.6M933.5 313.8V315.2M934.5 312.3V313.8M938.5 319.2V320.3M940.5 313.5V320.2M941.5 307.7V313.5M942.5 304.3V307.7M943.5 300.7V304.3M944.5 296.0V300.7M952.5 314.2V323.3M953.5 304.9V314.2M954.5 303.4V304.9M958.5 304.2V312.0M960.5 302.8V308.6M964.5 311.0V319.0M965.5 299.4V311.0M969.5 319.2V320.8M971.5 319.9V322.2M972.5 315.9V319.9M973.5 314.8V315.9M976.5 315.5V317.4M978.5 314.8V318.2M982.5 318.5V319.6M983.5 316.5V318.5M985.5 314.9V317.2M987.5 316.4V317.3M990.5 316.5V318.8M991.5 314.8V316.5M994.5 319.1V320.1M995.5 318.0V319.1M998.5 328.3V332.5M999.5 327.2V328.3M1000.5 321.1V327.2M1003.5 330.0V331.2M1006.5 335.7V338.4M1008.5 335.9V340.1M1009.5 333.4V335.9M1010.5 332.5V333.4M1013.5 335.1V337.5M1015.5 338.7V340.1M1019.5 353.2V357.2M1020.5 352.3V353.2M1021.5 347.5V352.3M1024.5 376.7V377.7M1028.5 394.8V400.8M1029.5 389.9V394.8M1032.5 392.5V399.8M1033.5 385.8V392.5M1034.5 384.6V385.8M1035.5 383.4V384.6M1036.5 370.6V383.4M1037.5 367.0V370.6M1039.5 369.4V371.1M1043.5 372.4V375.8M1045.5 374.6V376.0M1048.5 375.7V377.0M1050.5 374.0V379.9M1051.5 367.6V374.0M1052.5 365.8V367.6M1053.5 363.4V365.8M1055.5 364.3V365.5M1057.5 366.7V368.1M1059.5 368.1V370.0M1060.5 367.4V368.1M1071.5 394.8V399.4M1072.5 391.5V394.8M1073.5 383.0V391.5M1076.5 375.3V385.3M1078.5 373.7V376.4M1079.5 368.5V373.7M1080.5 363.5V368.5M1082.5 365.1V366.4M1085.5 374.9V376.3M1087.5 371.1V376.5M1094.5 437.5V440.6M1095.5 435.3V437.5M1096.5 432.0V435.3M1098.5 439.9V447.5M1099.5 434.3V439.9M1100.5 423.9V434.3M1104.5 431.5V436.1M1106.5 451.0V465.1M1107.5 436.6V451.0M1108.5 401.3V402.8M1113.5 413.8V416.8M1114.5 412.7V413.8M1117.5 418.8V419.9M1118.5 416.2V418.8M1119.5 414.6V416.2M1122.5 420.7V421.6M1123.5 420.0V420.7M1124.5 415.7V420.0M1125.5 407.8V415.7M1127.5 408.3V409.4M1129.5 409.5V411.3M1130.5 406.0V409.5M1132.5 409.5V410.4M1140.5 441.2V442.6M1141.5 440.3V441.2M1143.5 441.7V442.5M1144.5 441.0V441.7"/>
<path stroke="#ff3c3c" d="M5.5 605.0V610.5M6.5 610.5V619.0M7.5 619.0V623.0M8.5 623.0V624.7M12.5 612.6V624.5M13.5 624.5V625.9M15.5 624.2V633.5M17.5 628.2V632.2M18.5 632.2V638.6M19.5 638.6V640.0M21.5 636.8V639.5M23.5 638.0V639.9M29.5 612.5V615.7M30.5 615.7V616.5M31.5 616.5V619.6M38.5 597.2V598.1M39.5 598.1V600.0M41.5 596.6V602.3M42.5 602.3V603.1M43.5 603.1V605.5M45.5 602.8V604.1M49.5 598.5V601.8M50.5 601.8V602.7M54.5 546.8V557.2M55.5 557.2V561.4M56.5 561.4V567.8M59.5 554.1V560.4M64.5 511.4V512.2M67.5 480.7V498.4M68.5 498.4V519.8M69.5 519.8V542.2M72.5 530.5V540.6M73.5 540.6V546.0M75.5 545.0V550.5M78.5 532.7V534.3M79.5 534.3V543.3M84.5 530.2V535.5M85.5 535.5V538.3M86.5 538.3V540.3M89.5 538.4V542.2M90.5 542.2V547.5M93.5 534.0V536.0M94.5 536.0V537.8M95.5 537.8V539.2M96.5 539.2V540.7M97.5 540.7V545.2M99.5 543.7V548.7M100.5 548.7V550.4M104.5 541.0V542.1M109.5 533.1V534.5M110.5 534.5V544.5M111.5 544.5V547.0M112.5 547.0V555.2M114.5 554.2V555.7M118.5 544.1V545.3M119.5 545.3V565.1M120.5 565.1V599.4M121.5 599.4V605.0M122.5 605.0V628.6M123.5 628.6V650.0M124.5 650.0V670.4M125.5 670.4V703.6M126.5 703.6V712.0M129.5 691.6V714.9M130.5 714.9V741.3M131.5 741.3V754.7M132.5 754.7V769.5M133.5 769.5V784.2M142.5 695.5V701.5M143.5 701.5V703.5M147.5 694.5V697.7M151.5 680.8V683.8M152.5 683.8V689.8M153.5 689.8V694.3M154.5 694.3V695.3M156.5 694.0V699.4M160.5 687.1V690.8M161.5 690.8V695.5M162.5 695.5V703.1M163.5 703.1V704.2M170.5 678.9V685.5M171.5 685.5V687.1M172.5 687.1V688.3M173.5 688.3V691.1M177.5 688.0V689.4M182.5 671.8V674.0M187.5 660.3V661.2M188.5 661.2V667.6M189.5 667.6V676.3M190.5 676.3V677.3M194.5 643.0V654.8M195.5 654.8V664.3M196.5 664.3V675.9M201.5 648.1V668.0M202.5 668.0V682.3M206.5 595.5V599.8M207.5 599.8V604.8M208.5 604.8V606.3M209.5 606.3V608.1M210.5 608.1V611.1M211.5 611.1V612.5M213.5 611.0V618.2M214.5 618.2V619.7M216.5 617.1V624.6M218.5 621.8V626.2M219.5 626.2V629.2M220.5 629.2V631.3M221.5 631.3V635.0M222.5 635.0V636.1M228.5 623.0V627.2M231.5 624.3V627.7M232.5 627.7V634.4M234.5 629.4V636.4M235.5 636.4V642.0M236.5 642.0V647.8M238.5 646.6V657.9M239.5 657.9V671.3M240.5 671.3V691.8M241.5 691.8V708.8M242.5 708.8V720.7M243.5 720.7V724.9M246.5 715.9V728.3M247.5 728.3V747.8M254.5 723.6V725.8M257.5 714.0V724.5M268.5 597.0V614.3M269.5 614.3V632.9M278.5 505.7V508.2M280.5 506.8V513.4M281.5 513.4V514.7M286.5 487.9V493.2M287.5 493.2V498.5M288.5 498.5V509.3M294.5 475.9V477.6M296.5 474.7V481.2M301.5 466.4V475.7M302.5 475.7V482.6M303.5 482.6V485.9M308.5 462.5V463.8M311.5 452.3V461.5M312.5 461.5V472.2M313.5 472.2V477.3M315.5 475.9V486.1M316.5 486.1V488.6M319.5 481.7V483.8M321.5 473.2V479.9M325.5 463.2V466.8M326.5 466.8V471.8M327.5 471.8V476.0M328.5 476.0V483.6M329.5 483.6V492.3M335.5 443.4V447.9M336.5 447.9V451.4M337.5 451.4V461.5M338.5 461.5V462.6M339.5 462.6V469.8M340.5 469.8V476.7M344.5 453.0V456.0M346.5 444.2V446.5M347.5 446.5V454.0M348.5 454.0V462.1M351.5 458.1V462.4M352.5 462.4V557.6M353.5 557.6V580.7M357.5 537.1V554.0M358.5 554.0V568.7M359.5 568.7V575.8M363.5 542.3V544.7M367.5 536.9V540.8M368.5 540.8V543.6M370.5 537.3V549.1M371.5 549.1V550.2M372.5 550.2V551.1M373.5 551.1V552.1M377.5 520.3V527.5M379.5 524.7V526.1M380.5 526.1V529.0M388.5 502.4V514.0M389.5 514.0V521.2M390.5 521.2V529.0M391.5 529.0V540.7M398.5 484.1V492.4M399.5 492.4V509.2M400.5 509.2V530.2M401.5 530.2V533.8M402.5 533.8V539.5M403.5 539.5V547.9M404.5 547.9V552.1M407.5 540.2V554.9M408.5 554.9V566.7M409.5 566.7V588.4M410.5 588.4V616.9M411.5 616.9V631.0M412.5 631.0V648.2M413.5 648.2V667.1M419.5 601.6V605.1M420.5 605.1V606.5M421.5 606.5V608.0M427.5 590.5V594.8M428.5 594.8V600.2M429.5 600.2V601.8M432.5 588.2V594.1M436.5 573.1V582.9M437.5 582.9V587.1M438.5 587.1V588.1M439.5 588.1V589.1M444.5 574.2V585.7M445.5 585.7V594.6M448.5 579.7V580.7M452.5 567.4V568.5M453.5 568.5V576.9M456.5 566.8V572.4M457.5 572.4V574.1M458.5 574.1V585.1M459.5 585.1V590.8M460.5 590.8V595.4M462.5 588.7V591.2M463.5 591.2V597.0M464.5 597.0V597.8M474.5 509.1V514.3M479.5 491.8V505.0M480.5 505.0V519.8M481.5 519.8V535.8M482.5 535.8V553.4M483.5 553.4V571.1M484.5 571.1V590.1M485.5 590.1V597.4M487.5 596.5V604.7M491.5 594.2V596.4M492.5 596.4V597.9M503.5 501.1V510.4M504.5 510.4V518.8M509.5 503.8V505.8M513.5 489.2V489.9M515.5 488.7V499.1M516.5 499.1V503.7M517.5 503.7V506.5M518.5 506.5V511.3M523.5 498.9V504.1M524.5 504.1V505.3M525.5 505.3V510.0M526.5 510.0V513.9M529.5 502.5V506.5M531.5 504.1V505.2M532.5 505.2V506.0M534.5 505.2V510.0M535.5 510.0V518.1M541.5 478.0V485.1M542.5 485.1V504.9M543.5 504.9V518.6M548.5 480.3V482.1M551.5 470.8V471.6M553.5 462.8V469.4M554.5 469.4V481.7M555.5 481.7V485.3M556.5 485.3V490.3M558.5 488.6V492.7M559.5 492.7V498.2M561.5 495.2V498.3M562.5 498.3V505.5M563.5 505.5V513.4M564.5 513.4V515.3M565.5 515.3V519.5M566.5 519.5V522.3M567.5 522.3V523.5M568.5 523.5V524.5M570.5 523.8V524.8M573.5 521.6V523.4M574.5 523.4V524.7M576.5 522.4V525.0M578.5 523.0V526.1M580.5 524.2V525.6M582.5 524.0V525.1M587.5 517.9V520.3M588.5 520.3V522.5M589.5 522.5V525.7M590.5 525.7V529.0M592.5 527.5V528.9M593.5 528.9V530.5M594.5 530.5V542.5M595.5 542.5V552.4M596.5 552.4V556.8M597.5 556.8V564.1M601.5 544.8V549.1M607.5 500.3V505.3M608.5 505.3V510.2M609.5 510.2V516.1M613.5 467.3V482.1M614.5 482.1V499.9M617.5 494.0V499.1M618.5 499.1V503.3M620.5 495.9V504.9M621.5 504.9V518.2M622.5 518.2V524.8M625.5 519.9V526.3M631.5 511.4V512.7M634.5 501.1V505.6M637.5 501.1V510.4M638.5 510.4V516.5M639.5 516.5V519.7M641.5 517.4V520.0M642.5 520.0V521.3M644.5 518.2V524.3M646.5 520.0V521.5M648.5 513.8V518.5M650.5 517.7V523.3M652.5 519.3V520.8M653.5 520.8V521.9M657.5 514.3V520.8M658.5 520.8V524.2M659.5 524.2V526.4M666.5 489.2V496.2M671.5 482.6V483.9M678.5 444.0V445.6M679.5 445.6V454.6M680.5 454.6V457.5M684.5 442.0V451.9M685.5 451.9V480.1M689.5 447.4V448.7M692.5 433.6V446.6M693.5 446.6V460.5M694.5 460.5V463.8M696.5 461.7V467.1M697.5 467.1V481.0M698.5 481.0V487.6M699.5 487.6V489.1M702.5 482.4V483.8M706.5 475.5V484.0M707.5 484.0V486.3M708.5 486.3V488.6M711.5 486.7V487.8M712.5 487.8V489.3M723.5 450.5V455.1M724.5 455.1V456.2M725.5 456.2V461.0M728.5 457.3V458.8M734.5 440.0V444.1M737.5 433.0V438.6M741.5 415.2V416.9M743.5 415.7V431.3M744.5 431.3V440.4M745.5 440.4V473.9M746.5 473.9V479.3M747.5 479.3V484.1M752.5 460.8V474.6M757.5 451.5V457.1M758.5 457.1V467.0M759.5 467.0V478.4M760.5 478.4V496.4M764.5 422.3V424.8M765.5 424.8V430.0M767.5 426.2V434.5M769.5 431.7V435.1M770.5 435.1V437.4M772.5 433.7V436.9M773.5 436.9V442.1M774.5 442.1V450.5M776.5 447.7V458.0M778.5 453.7V459.1M780.5 456.7V458.9M781.5 458.9V460.5M786.5 440.0V445.8M787.5 445.8V449.9M788.5 449.9V451.9M789.5 451.9V454.3M790.5 454.3V460.5M791.5 460.5V462.2M800.5 428.1V429.6M801.5 429.6V433.7M803.5 432.9V437.7M806.5 432.3V434.1M810.5 421.1V433.6M811.5 433.6V445.1M814.5 425.8V428.1M815.5 428.1V434.0M816.5 434.0V437.7M822.5 394.3V399.9M824.5 394.6V400.1M825.5 400.1V402.3M826.5 402.3V406.3M827.5 406.3V410.2M828.5 410.2V417.9M833.5 405.8V410.7M835.5 406.5V407.5M836.5 407.5V410.6M841.5 387.3V388.1M842.5 388.1V394.1M843.5 394.1V399.6M844.5 399.6V404.7M848.5 387.6V389.5M851.5 381.9V383.7M852.5 383.7V390.3M857.5 369.0V372.9M859.5 371.0V377.0M860.5 377.0V379.1M861.5 379.1V382.8M862.5 382.8V387.4M866.5 375.0V376.6M868.5 372.7V375.5M872.5 368.6V374.6M874.5 372.9V373.7M877.5 358.6V359.9M878.5 359.9V366.3M881.5 357.6V359.6M886.5 328.8V335.2M887.5 335.2V336.4M888.5 336.4V337.5M890.5 334.7V343.2M894.5 331.5V333.7M895.5 333.7V337.9M899.5 317.5V325.7M900.5 325.7V332.8M901.5 332.8V335.9M902.5 335.9V337.4M906.5 330.5V331.3M911.5 312.4V313.8M913.5 312.3V315.1M914.5 315.1V318.7M915.5 318.7V322.6M916.5 322.6V323.9M917.5 323.9V325.1M925.5 312.3V315.5M926.5 315.5V320.6M928.5 319.1V324.5M929.5 324.5V326.5M930.5 326.5V329.4M935.5 312.3V315.3M936.5 315.3V317.3M937.5 317.3V320.3M939.5 319.2V320.2M945.5 296.0V299.3M946.5 299.3V301.3M947.5 301.3V308.8M948.5 308.8V312.6M949.5 312.6V313.7M950.5 313.7V321.9M951.5 321.9V323.3M955.5 303.4V306.1M956.5 306.1V306.8M957.5 306.8V312.0M959.5 304.2V308.6M961.5 302.8V308.3M962.5 308.3V315.6M963.5 315.6V319.0M966.5 299.4V310.7M967.5 310.7V316.0M968.5 316.0V320.8M970.5 319.2V322.2M974.5 314.8V316.4M975.5 316.4V317.4M977.5 315.5V318.2M979.5 314.8V316.7M980.5 316.7V318.3M981.5 318.3V319.6M984.5 316.5V317.2M986.5 314.9V317.3M988.5 316.4V317.8M989.5 317.8V318.8M992.5 314.8V317.3M993.5 317.3V320.1M996.5 318.0V324.7M997.5 324.7V332.5M1001.5 321.1V330.2M1002.5 330.2V331.2M1004.5 330.0V334.3M1005.5 334.3V338.4M1007.5 335.7V340.1M1011.5 332.5V333.8M1012.5 333.8V337.5M1014.5 335.1V340.1M1016.5 338.7V350.3M1017.5 350.3V351.2M1018.5 351.2V357.2M1022.5 347.5V361.4M1023.5 361.4V377.7M1025.5 376.7V383.1M1026.5 383.1V391.7M1027.5 391.7V400.8M1030.5 389.9V397.3M1031.5 397.3V399.8M1038.5 367.0V371.1M1040.5 369.4V372.5M1041.5 372.5V374.7M1042.5 374.7V375.8M1044.5 372.4V376.0M1046.5 374.6V375.9M1047.5 375.9V377.0M1049.5 375.7V379.9M1054.5 363.4V365.5M1056.5 364.3V368.1M1058.5 366.7V370.0M1061.5 367.4V368.5M1062.5 368.5V370.1M1063.5 370.1V373.0M1064.5 373.0V375.1M1065.5 375.1V376.3M1066.5 376.3V377.3M1067.5 377.3V380.3M1068.5 380.3V384.5M1069.5 384.5V391.2M1070.5 391.2V399.4M1074.5 383.0V384.4M1075.5 384.4V385.3M1077.5 375.3V376.4M1081.5 363.5V366.4M1083.5 365.1V370.3M1084.5 370.3V376.3M1086.5 374.9V376.5M1088.5 371.1V379.4M1089.5 379.4V388.8M1090.5 388.8V395.7M1091.5 395.7V402.5M1092.5 402.5V409.0M1093.5 409.0V440.6M1097.5 432.0V447.5M1101.5 423.9V431.6M1102.5 431.6V434.1M1103.5 434.1V436.1M1105.5 431.5V465.1M1109.5 401.3V406.1M1110.5 406.1V409.9M1111.5 409.9V413.0M1112.5 413.0V416.8M1115.5 412.7V417.1M1116.5 417.1V419.9M1120.5 414.6V420.0M1121.5 420.0V421.6M1126.5 407.8V409.4M1128.5 408.3V411.3M1131.5 406.0V410.4M1133.5 409.5V414.9M1134.5 414.9V419.7M1135.5 419.7V426.7M1136.5 426.7V428.0M1137.5 428.0V434.2M1138.5 434.2V441.2M1139.5 441.2V442.6M1142.5 440.3V442.5"/>
</g>
<g stroke="#a0a0a0" stroke-width="1" shape-rendering="crispEdges">
<path d="M31.5 0V836" stroke-dasharray="5 6"/>
<path d="M4 79.5H1199" stroke-dasharray="5 6"/>
</g>
<g shape-rendering="crispEdges">
<rect x="1199" y="0" width="51" height="836" fill="#fff"/>
<rect x="4" y="836" width="1246" height="19" fill="#fff"/>
<path d="M1199.5 0V837" stroke="#555" stroke-width="1"/>
<path d="M4 836.5H1200" stroke="#555" stroke-width="1"/>
<g stroke="#555" stroke-width="1"><path d="M1200 821.5H1203"/><path d="M1200 791.5H1203"/><path d="M1200 762.5H1203"/><path d="M1200 732.5H1203"/><path d="M1200 703.5H1203"/><path d="M1200 673.5H1203"/><path d="M1200 643.5H1203"/><path d="M1200 614.5H1203"/><path d="M1200 584.5H1203"/><path d="M1200 555.5H1203"/><path d="M1200 525.5H1203"/><path d="M1200 496.5H1203"/><path d="M1200 466.5H1203"/><path d="M1200 437.5H1203"/><path d="M1200 407.5H1203"/><path d="M1200 378.5H1203"/><path d="M1200 348.5H1203"/><path d="M1200 318.5H1203"/><path d="M1200 289.5H1203"/><path d="M1200 260.5H1203"/><path d="M1200 230.5H1203"/><path d="M1200 200.5H1203"/><path d="M1200 171.5H1203"/><path d="M1200 141.5H1203"/><path d="M1200 112.5H1203"/><path d="M1200 82.5H1203"/><path d="M1200 53.5H1203"/><path d="M1200 23.5H1203"/></g>
<path d="M210.5 837V840" stroke="#555" stroke-width="1"/><path d="M350.5 837V840" stroke="#555" stroke-width="1"/><path d="M488.5 837V840" stroke="#555" stroke-width="1"/><path d="M627.5 837V840" stroke="#555" stroke-width="1"/><path d="M764.5 837V840" stroke="#555" stroke-width="1"/><path d="M902.5 837V840" stroke="#555" stroke-width="1"/><path d="M1041.5 837V840" stroke="#555" stroke-width="1"/><path d="M1179.5 837V840" stroke="#555" stroke-width="1"/>
</g>
<g font-size="11" fill="#555">
<text x="1206" y="825.5">2540.00</text><text x="1206" y="795.5">2550.00</text><text x="1206" y="766.5">2560.00</text><text x="1206" y="736.5">2570.00</text><text x="1206" y="707.5">2580.00</text><text x="1206" y="677.5">2590.00</text><text x="1206" y="647.5">2600.00</text><text x="1206" y="618.5">2610.00</text><text x="1206" y="588.5">2620.00</text><text x="1206" y="559.5">2630.00</text><text x="1206" y="529.5">2640.00</text><text x="1206" y="500.5">2650.00</text><text x="1206" y="470.5">2660.00</text><text x="1206" y="441.5">2670.00</text><text x="1206" y="411.5">2680.00</text><text x="1206" y="382.5">2690.00</text><text x="1206" y="352.5">2700.00</text><text x="1206" y="322.5">2710.00</text><text x="1206" y="293.5">2720.00</text><text x="1206" y="264.5">2730.00</text><text x="1206" y="234.5">2740.00</text><text x="1206" y="204.5">2750.00</text><text x="1206" y="175.5">2760.00</text><text x="1206" y="145.5">2770.00</text><text x="1206" y="116.5">2780.00</text><text x="1206" y="86.5">2790.00</text><text x="1206" y="57.5">2800.00</text><text x="1206" y="27.5">2810.00</text>
</g>
<g font-size="11" fill="#555" text-anchor="middle">
<text x="210.5" y="851">4</text><text x="350.5" y="851">6</text><text x="488.5" y="851">10</text><text x="627.5" y="851">12</text><text x="764.5" y="851">16</text><text x="902.5" y="851">18</text><text x="1041.5" y="851">20</text><text x="1179.5" y="851">24</text>
</g>
<rect x="1200" y="290" width="50" height="16" fill="#7ecbdb" shape-rendering="crispEdges"/><text x="1206" y="302" font-size="11" font-weight="normal" fill="#222">2717.18</text>
<rect x="1200" y="508" width="50" height="16" fill="#7ecbdb" shape-rendering="crispEdges"/><text x="1206" y="520" font-size="11" font-weight="normal" fill="#222">2643.57</text>
<rect x="1200" y="434" width="50" height="16" fill="#12b886" shape-rendering="crispEdges"/><text x="1206" y="446" font-size="11" font-weight="bold" fill="#fff">2668.58</text>
<rect x="1199" y="72" width="51" height="16" fill="#555" shape-rendering="crispEdges"/><text x="1206" y="84" font-size="11" font-weight="bold" fill="#fff">2791.12</text>
<path d="M133 786.8L1202 538.5" stroke="#5fae5f" stroke-opacity="0.4" stroke-width="4" fill="none"/>
<path d="M247.9 764.4L1199 358.7" stroke="#5fae5f" stroke-opacity="0.4" stroke-width="4" fill="none"/>
<polygon points="120.2,769 862.3,320.6 850.6,300.9 942.5,299.4 901.2,385.2 888.4,365.1 145.8,811.6" fill="#808080" fill-opacity="0.45"/>
<polygon points="929.8,300.9 967.8,268.7 1163.3,497.5 1182.5,483 1199.7,579.7 1106.8,546.7 1125,531" fill="#ff5a5a" fill-opacity="0.35"/>
<path d="M925.6 285.8L1253 442.6" stroke="#ff5a5a" stroke-opacity="0.38" stroke-width="4.5" fill="none"/>
<path d="M1027 360.5L1141.4 360" stroke="#808080" stroke-opacity="0.45" stroke-width="4" fill="none"/>
<path d="M1020.5 403.7L1149.5 401" stroke="#808080" stroke-opacity="0.45" stroke-width="4" fill="none"/>
<path d="M1077.4 466.5L1179.8 468.4" stroke="#808080" stroke-opacity="0.45" stroke-width="4" fill="none"/>
<path d="M946.7 298L1028 399.5L1052.5 362L1070 400.7L1082.6 366.5L1105 460.7L1112 408L1135 446.7" stroke="#5c50e8" stroke-opacity="0.33" stroke-width="4" fill="none" stroke-linejoin="round"/>
<text transform="translate(1137.5 574.6) scale(1.14 1)" font-size="15.7" font-weight="bold" fill="#000" stroke="#000" stroke-width="0.6" textLength="48.2" lengthAdjust="spacing">61,8%</text>
<text transform="translate(764.5 804.8) scale(1.16 1)" font-size="15.6" font-weight="bold" fill="#000" stroke="#000" stroke-width="0.5" textLength="227.6" lengthAdjust="spacing">www.invertiryespecular.com</text>
<rect x="4" y="836" width="94" height="19" fill="#555" shape-rendering="crispEdges"/>
<path d="M31.5 836V840" stroke="#fff" stroke-width="1" shape-rendering="crispEdges"/>
<text x="8" y="851" font-size="11" font-weight="bold" fill="#fff" textLength="86" lengthAdjust="spacing">29/03/2018 09:30</text>
<rect x="9.5" y="12.5" width="12" height="12" rx="1.5" fill="#fff" stroke="#555" stroke-width="1"/>
<path d="M11.5 18.5H19.5M15.5 14.5V22.5" stroke="#555" stroke-width="1" shape-rendering="crispEdges"/>
<g font-size="15">
<text x="28.3" y="25" fill="#555" stroke="#555" stroke-width="0.25" textLength="9.7" lengthAdjust="spacingAndGlyphs">O</text><text x="40.2" y="25" fill="#0f8f66" stroke="#0f8f66" stroke-width="0.25" textLength="51.0" lengthAdjust="spacingAndGlyphs">2608.78</text><text x="102.0" y="25" fill="#555" stroke="#555" stroke-width="0.25" textLength="8.3" lengthAdjust="spacingAndGlyphs">H</text><text x="112.4" y="25" fill="#0f8f66" stroke="#0f8f66" stroke-width="0.25" textLength="52.0" lengthAdjust="spacingAndGlyphs">2610.78</text><text x="175.7" y="25" fill="#555" stroke="#555" stroke-width="0.25" textLength="6.1" lengthAdjust="spacingAndGlyphs">L</text><text x="183.8" y="25" fill="#0f8f66" stroke="#0f8f66" stroke-width="0.25" textLength="51.0" lengthAdjust="spacingAndGlyphs">2607.02</text><text x="246.0" y="25" fill="#555" stroke="#555" stroke-width="0.25" textLength="8.0" lengthAdjust="spacingAndGlyphs">C</text><text x="256.0" y="25" fill="#0f8f66" stroke="#0f8f66" stroke-width="0.25" textLength="51.4" lengthAdjust="spacingAndGlyphs">2609.68</text>
</g>
<g shape-rendering="crispEdges">
<rect x="0" y="0" width="3" height="860" fill="#eef0f5"/><rect x="3" y="0" width="1" height="860" fill="#d3d7df"/>
<rect x="1250" y="0" width="3" height="860" fill="#eceef5"/>
<rect x="0" y="855" width="1253" height="5" fill="#e4e4e4"/>
<path d="M0 421.5L2.5 415V428Z" fill="#c4c4c4"/>
<g stroke="#666" stroke-width="1"><path d="M59.5 859V860"/><path d="M110.5 859V860"/><path d="M152.5 859V860"/><path d="M194.5 859V860"/><path d="M236.5 859V860"/><path d="M274.5 859V860"/><path d="M313.5 859V860"/><path d="M1126.5 859V860"/><path d="M1159.5 859V860"/><path d="M1200.5 859V860"/></g>
</g>
</svg>
</body></html>
